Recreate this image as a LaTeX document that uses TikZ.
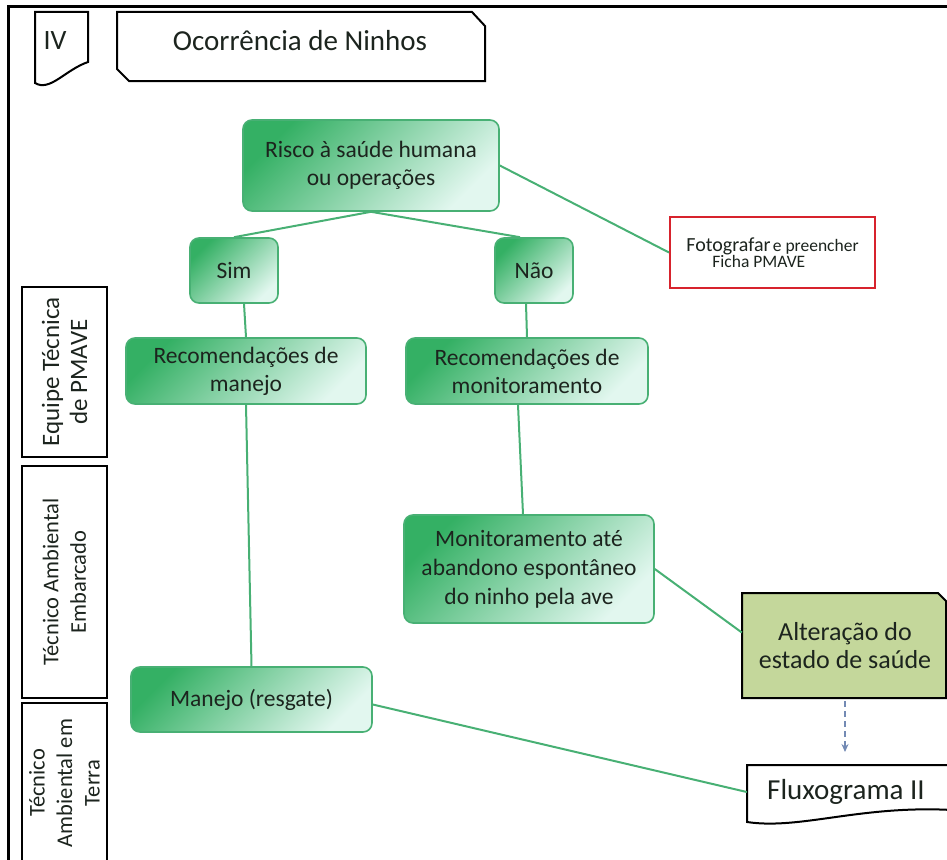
\documentclass[tikz,border=0pt]{standalone}
\usepackage{fontspec}
\setmainfont{Carlito}
\usepackage{tikz}
\usetikzlibrary{arrows,arrows.meta,shapes,calc,positioning}
\definecolor{verde}{RGB}{52,176,100}
\definecolor{verdeClaro}{RGB}{226,247,239}
\definecolor{verdeLinha}{RGB}{72,176,116}
\definecolor{texto}{RGB}{28,36,30}
\definecolor{oliva}{RGB}{196,215,155}
\definecolor{vermelho}{RGB}{215,35,45}
\definecolor{azulGris}{RGB}{115,138,180}
\tikzstyle{edge}  =[line width=2pt, draw=verdeLinha]
\tikzstyle{seta}  =[-{Stealth[length=8pt,width=7pt]}, dash pattern=on 6pt off 4pt,
                    line width=2.4pt, draw=azulGris, shorten <=3pt]
\tikzstyle{caixa} =[rounded corners=9pt, draw=verdeLinha, line width=1.6pt,
                    top color=verde, bottom color=verdeClaro, shading angle=45,
                    text=texto, align=center, inner sep=0pt,
                    font=\fontsize{23.5}{28}\selectfont]
\tikzstyle{raia}  =[draw, line width=1.8pt, fill=white, rotate=90,
                    align=center, inner sep=0pt, minimum height=85pt,
                    text=texto, font=\fontsize{22.5}{27.5}\selectfont]
\tikzstyle{doc}   =[draw=black, line width=2pt]

\begin{document}
\begin{tikzpicture}[x=1pt,y=-1pt]
    \useasboundingbox (0,0) rectangle (947,859);

    % moldura
    \draw [line width=3pt] (8,862) -- (8,6.5) -- (950,6.5);

    % cabecalho
    \draw [doc] (35,12) -- (88,12) -- (88,62) .. controls (65,70) and (50,92) .. (35,83) -- cycle;
    \draw (55,41) node(num)[text=texto, font=\fontsize{28}{30}\selectfont]{IV};
    \draw [doc] (117,12) -- (472,12) -- (485,26) -- (485,81) -- (129,81) -- (117,69) -- cycle;
    \draw (300,41) node(titulo)[text=texto, font=\fontsize{29}{32}\selectfont]{Ocorrência de Ninhos};

    % raias
    \draw (64.5,372) node(raia1)[raia, minimum width=170pt,
        font=\fontsize{25}{28}\selectfont]{Equipe Técnica\\de PMAVE};
    \draw (64.5,582) node(raia2)[raia, minimum width=232pt]{Técnico Ambiental\\Embarcado};
    \draw (64.5,783) node(raia3)[raia, minimum width=160pt]{Técnico\\Ambiental em\\Terra};

    % caixas verdes
    \draw (371,165.5) node(risco)[caixa, minimum width=256pt, minimum height=91pt]{Risco à saúde humana\\ou operações};
    \draw (234,270.5) node(sim)[caixa, minimum width=88pt, minimum height=65pt]{Sim};
    \draw (534,270.5) node(nao)[caixa, minimum width=78pt, minimum height=65pt]{Não};
    \draw (246,371) node(recman)[caixa, minimum width=240pt, minimum height=66pt]{Recomendações de\\manejo};
    \draw (527,371) node(recmon)[caixa, minimum width=242pt, minimum height=66pt]{Recomendações de\\monitoramento};
    \draw (529,569) node(monit)[caixa, minimum width=250pt, minimum height=108pt,
        font=\fontsize{23.5}{29}\selectfont]{Monitoramento até\\abandono espontâneo\\do ninho pela ave};
    \draw (251.5,699.5) node(manejo)[caixa, minimum width=241pt, minimum height=65pt]{Manejo (resgate)};

    % foto
    \draw (772.5,252.5) node(foto)[draw=vermelho, line width=2pt, fill=white,
        minimum width=205pt, minimum height=71pt, align=left, text=texto]
        {{\fontsize{20}{23}\selectfont Fotografar} {\fontsize{17.5}{23}\selectfont e preencher}\\
         \hspace*{26pt}{\fontsize{17.5}{23}\selectfont Ficha PMAVE}};

    % alteracao e fluxograma
    \draw [doc, fill=oliva] (742,593) -- (938,593) -- (946,601) -- (946,698) -- (742,698) -- cycle;
    \draw (845,645.5) node(alter)[minimum width=206pt, minimum height=105pt, align=center,
        text=texto, font=\fontsize{26}{28}\selectfont]{Alteração do\\estado de saúde};
    \draw [doc, fill=white] (952,765) -- (747,765) -- (747,822) .. controls (800,830) and (860,805) .. (952,810);
    \draw (846,792) node(flux)[minimum width=198pt, minimum height=50pt,
        text=texto, font=\fontsize{29}{32}\selectfont]{Fluxograma II};
    \coordinate (setaFim) at (845,752);

    % pontos de ligacao
    \coordinate (naoTopo) at ([xshift=-14pt]nao.north);
    \coordinate (simBase) at ([xshift=10pt]sim.south);
    \coordinate (naoBase) at ([xshift=-8pt]nao.south);
    \coordinate (recmonBase) at ([xshift=-9pt]recmon.south);
    \coordinate (monitTopo) at ([xshift=-6pt]monit.north);
    \coordinate (alterEsq) at ([yshift=13pt]alter.west);
    \coordinate (manejoDir) at ([yshift=-5pt]manejo.east);

    \foreach \i/\j in {risco.south/sim.north, risco.south/naoTopo, risco.east/foto.west,
                       simBase/recman.north, naoBase/recmon.north,
                       recman.south/manejo.north, recmonBase/monitTopo,
                       monit.east/alterEsq, manejoDir/flux.west}
        \draw [edge] (\i) -- (\j);

    \draw [seta] (alter.south) -- (setaFim);
\end{tikzpicture}
\end{document}
